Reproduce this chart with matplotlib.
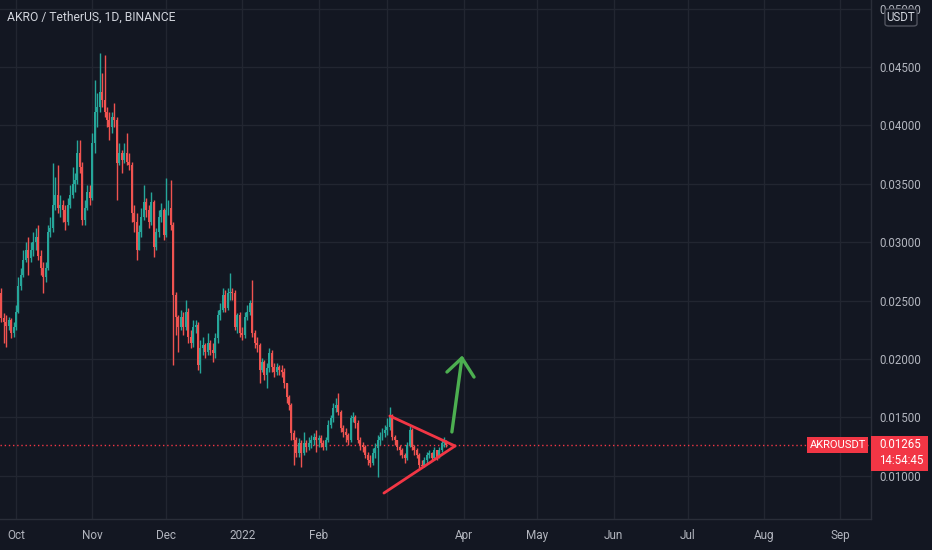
import numpy as np
import pandas as pd
import matplotlib
matplotlib.use("Agg")
import matplotlib.pyplot as plt
import matplotlib.dates as mdates
from matplotlib.patches import Rectangle, FancyBboxPatch

plt.rcParams["font.family"] = ["Roboto", "DejaVu Sans"]

BG = "#131722"
GRID = "#222631"
TXT = "#b2b5be"
UP = "#26a69a"
DOWN = "#ef5350"
LABEL_RED = "#f23645"

# ---- daily candles AKRO/USDT, 2021-09-25 .. 2022-03-26 ----
first_open = 0.02565
close = [
    0.02352, 0.02317, 0.02283, 0.02334, 0.02223, 0.02274, 0.02403, 0.02625, 0.02720, 0.02848,
    0.02934, 0.02865, 0.02934, 0.03002, 0.03045, 0.02882, 0.02779, 0.02702, 0.02779, 0.03088,
    0.03122, 0.03319, 0.03404, 0.03293, 0.03319, 0.03276, 0.03173, 0.03319, 0.03404, 0.03498,
    0.03533, 0.03764, 0.03644, 0.03190, 0.03293, 0.03430, 0.03379, 0.03849, 0.04115, 0.04158,
    0.04286, 0.04218, 0.04115, 0.04046, 0.03986, 0.04072, 0.04046, 0.03678, 0.03764, 0.03704,
    0.03764, 0.03687, 0.03661, 0.03250, 0.03173, 0.02934, 0.03088, 0.03216, 0.03344, 0.03276,
    0.03173, 0.03344, 0.02959, 0.03088, 0.03216, 0.03276, 0.03062, 0.03276, 0.03293, 0.03147,
    0.02548, 0.02360, 0.02274, 0.02360, 0.02274, 0.02403, 0.02189, 0.02137, 0.02274, 0.02291,
    0.01949, 0.02095, 0.02120, 0.02060, 0.02137, 0.02077, 0.02052, 0.02180, 0.02377, 0.02420,
    0.02548, 0.02437, 0.02565, 0.02574, 0.02565, 0.02274, 0.02377, 0.02223, 0.02206, 0.02360,
    0.02403, 0.02480, 0.02223, 0.02137, 0.02120, 0.01906, 0.01975, 0.01864, 0.01923, 0.02052,
    0.01932, 0.01889, 0.01932, 0.01906, 0.01889, 0.01795, 0.01675, 0.01607, 0.01367, 0.01307,
    0.01196, 0.01281, 0.01196, 0.01281, 0.01247, 0.01281, 0.01307, 0.01333, 0.01307, 0.01324,
    0.01281, 0.01247, 0.01307, 0.01436, 0.01495, 0.01581, 0.01607, 0.01547, 0.01410, 0.01376,
    0.01350, 0.01307, 0.01495, 0.01504, 0.01453, 0.01307, 0.01264, 0.01247, 0.01179, 0.01136,
    0.01110, 0.01196, 0.01239, 0.01307, 0.01333, 0.01367, 0.01393, 0.01418, 0.01521, 0.01333,
    0.01307, 0.01247, 0.01222, 0.01179, 0.01153, 0.01264, 0.01393, 0.01247, 0.01222, 0.01179,
    0.01093, 0.01085, 0.01136, 0.01179, 0.01196, 0.01153, 0.01222, 0.01153, 0.01222, 0.01281,
    0.01298, 0.01265,
]
high = [
    0.02608, 0.02394, 0.02377, 0.02360, 0.02352, 0.02317, 0.02463, 0.02702, 0.02779, 0.02934,
    0.03002, 0.03045, 0.03002, 0.03088, 0.03122, 0.03147, 0.02934, 0.02831, 0.02831, 0.03147,
    0.03216, 0.03678, 0.03558, 0.03661, 0.03404, 0.03362, 0.03319, 0.03379, 0.03490, 0.03644,
    0.03593, 0.03875, 0.03875, 0.03687, 0.03362, 0.03490, 0.03490, 0.03935, 0.04389, 0.04277,
    0.04620, 0.04449, 0.04603, 0.04158, 0.04115, 0.04115, 0.04192, 0.04072, 0.03849, 0.03790,
    0.03849, 0.03935, 0.03764, 0.03687, 0.03319, 0.03250, 0.03147, 0.03293, 0.03490, 0.03379,
    0.03319, 0.03430, 0.03362, 0.03122, 0.03276, 0.03336, 0.03293, 0.03550, 0.03362, 0.03533,
    0.03173, 0.02574, 0.02377, 0.02420, 0.02403, 0.02505, 0.02437, 0.02249, 0.02334, 0.02334,
    0.02317, 0.02163, 0.02189, 0.02137, 0.02223, 0.02163, 0.02137, 0.02223, 0.02420, 0.02480,
    0.02608, 0.02591, 0.02608, 0.02737, 0.02608, 0.02591, 0.02394, 0.02403, 0.02274, 0.02403,
    0.02463, 0.02505, 0.02677, 0.02249, 0.02189, 0.02137, 0.02009, 0.01992, 0.01966, 0.02095,
    0.02077, 0.01966, 0.01966, 0.01949, 0.01949, 0.01923, 0.01795, 0.01692, 0.01624, 0.01393,
    0.01333, 0.01324, 0.01307, 0.01376, 0.01307, 0.01333, 0.01350, 0.01367, 0.01393, 0.01350,
    0.01350, 0.01307, 0.01333, 0.01478, 0.01521, 0.01624, 0.01667, 0.01710, 0.01564, 0.01436,
    0.01410, 0.01367, 0.01521, 0.01547, 0.01521, 0.01478, 0.01333, 0.01290, 0.01264, 0.01204,
    0.01179, 0.01239, 0.01281, 0.01350, 0.01376, 0.01410, 0.01436, 0.01495, 0.01590, 0.01530,
    0.01350, 0.01307, 0.01264, 0.01239, 0.01196, 0.01290, 0.01427, 0.01410, 0.01264, 0.01239,
    0.01196, 0.01136, 0.01162, 0.01204, 0.01222, 0.01204, 0.01247, 0.01222, 0.01247, 0.01307,
    0.01333, 0.01307,
]
low = [
    0.02317, 0.02137, 0.02103, 0.02249, 0.02180, 0.02189, 0.02249, 0.02394, 0.02591, 0.02702,
    0.02831, 0.02720, 0.02831, 0.02882, 0.02934, 0.02848, 0.02720, 0.02565, 0.02659, 0.02762,
    0.03045, 0.03088, 0.03276, 0.03250, 0.03216, 0.03173, 0.03105, 0.03147, 0.03293, 0.03379,
    0.03430, 0.03498, 0.03593, 0.03147, 0.03147, 0.03276, 0.03319, 0.03362, 0.03764, 0.03986,
    0.04115, 0.04158, 0.04072, 0.03986, 0.03875, 0.03935, 0.03986, 0.03362, 0.03661, 0.03593,
    0.03678, 0.03661, 0.03619, 0.03173, 0.03088, 0.02848, 0.02934, 0.03045, 0.03190, 0.03216,
    0.03122, 0.03147, 0.02874, 0.02934, 0.03045, 0.03173, 0.03019, 0.03045, 0.03233, 0.03105,
    0.01949, 0.02206, 0.02060, 0.02249, 0.02206, 0.02249, 0.02137, 0.02095, 0.02103, 0.02223,
    0.01906, 0.01881, 0.02035, 0.02009, 0.02035, 0.02035, 0.01975, 0.02009, 0.02137, 0.02334,
    0.02403, 0.02403, 0.02420, 0.02505, 0.02505, 0.02249, 0.02223, 0.02189, 0.02163, 0.02180,
    0.02334, 0.02377, 0.02189, 0.02095, 0.02060, 0.01795, 0.01889, 0.01821, 0.01752, 0.01889,
    0.01889, 0.01846, 0.01864, 0.01864, 0.01846, 0.01752, 0.01624, 0.01564, 0.01307, 0.01093,
    0.01162, 0.01162, 0.01076, 0.01179, 0.01204, 0.01222, 0.01239, 0.01264, 0.01204, 0.01247,
    0.01247, 0.01222, 0.01222, 0.01290, 0.01410, 0.01461, 0.01547, 0.01521, 0.01376, 0.01333,
    0.01290, 0.01264, 0.01290, 0.01461, 0.01410, 0.01281, 0.01222, 0.01204, 0.01153, 0.01093,
    0.01076, 0.01093, 0.01153, 0.00990, 0.01264, 0.01307, 0.01333, 0.01350, 0.01393, 0.01307,
    0.01264, 0.01222, 0.01179, 0.01153, 0.01110, 0.01136, 0.01247, 0.01222, 0.01179, 0.01153,
    0.01067, 0.01076, 0.01076, 0.01110, 0.01153, 0.01136, 0.01136, 0.01136, 0.01153, 0.01204,
    0.01247, 0.01247,
]
last_price = 0.01265

month_labels = ["Oct", "Nov", "Dec", "2022", "Feb", "", "Apr", "May", "Jun", "Jul", "Aug", "Sep"]
price_ticks = [0.010, 0.015, 0.020, 0.025, 0.030, 0.035, 0.040, 0.045, 0.050]

# hand drawings on the chart (date, price)
tri_upper = [("2022-03-02", 0.01513), ("2022-03-28 12:00", 0.01256)]
tri_lower = [("2022-02-27 14:00", 0.00853), ("2022-03-28 12:00", 0.01256)]
arrow_shaft = [("2022-03-27 05:00", 0.01376), ("2022-03-31 07:00", 0.02009)]
arrow_head = [("2022-03-25 05:00", 0.01889), ("2022-03-31 07:00", 0.02009), ("2022-04-05 05:00", 0.01846)]

dates = pd.date_range("2021-09-25", periods=len(close), freq="D")
x = mdates.date2num(dates)
c = np.array(close)
o = np.array([first_open] + close[:-1])
hi = np.array(high)
lo = np.array(low)
cols = np.where(c >= o, UP, DOWN)

fig = plt.figure(figsize=(9.32, 5.5), dpi=100, facecolor=BG)
ax = fig.add_axes([0, 31 / 550, 871 / 932, 519 / 550], facecolor=BG)

ax.vlines(x, lo, hi, colors=cols, linewidth=1.0, zorder=3)
ax.bar(x, np.maximum(np.abs(c - o), 0.00004), bottom=np.minimum(o, c),
       width=0.8, color=cols, linewidth=0, zorder=4)

# current price line
ax.axhline(last_price, color=LABEL_RED, linewidth=1, linestyle=(0, (1, 2)), zorder=2)

def xy(pts):
    return ([mdates.date2num(pd.Timestamp(d)) for d, _ in pts], [p for _, p in pts])

for pts in (tri_upper, tri_lower):
    ax.plot(*xy(pts), color=LABEL_RED, linewidth=2, solid_capstyle="round", zorder=5)
for pts in (arrow_shaft, arrow_head):
    ax.plot(*xy(pts), color="#4caf50", linewidth=2.4, solid_capstyle="round",
            solid_joinstyle="round", zorder=5)

base = mdates.date2num(pd.Timestamp("2021-10-01"))
ax.set_xlim(base - 6.5, base + 347.6)
ax.set_ylim(0.00631, 0.05073)

months = pd.date_range("2021-10-01", "2022-09-01", freq="MS")
ax.set_xticks(mdates.date2num(months))
ax.set_xticklabels(month_labels)
ax.set_yticks(price_ticks)
ax.set_yticklabels([f"{p:.5f}" for p in price_ticks])
ax.yaxis.tick_right()
ax.tick_params(axis="x", length=0, pad=7, colors=TXT, labelsize=8.5)
ax.tick_params(axis="y", length=0, pad=5.8, colors=TXT, labelsize=8.3)
for lab in ax.get_yticklabels():
    lab.set_horizontalalignment("left")

ax.grid(True, color=GRID, linewidth=1)
ax.set_axisbelow(True)
for side in ("top", "left"):
    ax.spines[side].set_visible(False)
for side in ("right", "bottom"):
    ax.spines[side].set_color("#2a2e39")
    ax.spines[side].set_linewidth(1)

fig.text(7 / 932, 1 - 17 / 550, "AKRO / TetherUS, 1D, BINANCE", color="#d1d4dc",
         fontsize=8.7, va="center", ha="left")

# USDT badge over the top tick
fig.patches.append(FancyBboxPatch((885 / 932, 1 - 26 / 550), 32 / 932, 17 / 550,
                                  boxstyle="round,pad=0,rounding_size=0.004",
                                  transform=fig.transFigure, facecolor=BG,
                                  edgecolor="#50535e", linewidth=1, zorder=6))
fig.text(901 / 932, 1 - 17.5 / 550, "USDT", color="#d1d4dc", fontsize=8.3,
         ha="center", va="center", zorder=7)

# symbol and price labels
fig.patches.append(Rectangle((807 / 932, 1 - 453 / 550), 61 / 932, 16 / 550,
                             transform=fig.transFigure, facecolor=LABEL_RED,
                             edgecolor="none", zorder=6))
fig.text(837.5 / 932, 1 - 445 / 550, "AKROUSDT", color="white", fontsize=8,
         ha="center", va="center", zorder=7)
fig.patches.append(Rectangle((871 / 932, 1 - 471 / 550), 57 / 932, 35 / 550,
                             transform=fig.transFigure, facecolor=LABEL_RED,
                             edgecolor="none", zorder=6))
fig.text(879 / 932, 1 - 445 / 550, f"{last_price:.5f}", color="white", fontsize=8.3,
         ha="left", va="center", zorder=7)
fig.text(879 / 932, 1 - 461 / 550, "14:54:45", color="white", fontsize=8.3,
         ha="left", va="center", zorder=7)

fig.savefig("out.png", dpi=100, facecolor=BG)
